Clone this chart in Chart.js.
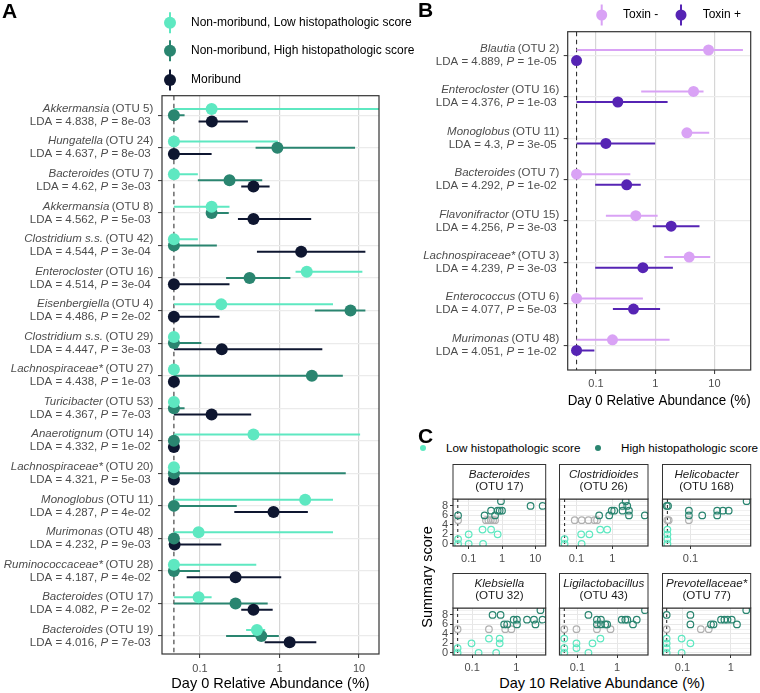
<!DOCTYPE html>
<html>
<head>
<meta charset="utf-8">
<title>Relative abundance figure</title>
<script src="https://cdn.jsdelivr.net/npm/chart.js@4.4.1/dist/chart.umd.min.js"></script>
<style>
  html, body { margin: 0; padding: 0; background: #fff; }
  body { position: relative; width: 760px; height: 693px; overflow: hidden; font-family: "Liberation Sans", Arial, sans-serif; }
  canvas { position: absolute; }
  .txt { position: absolute; white-space: nowrap; color: #000; line-height: 1; }
  .letter { font-weight: bold; font-size: 21px; }
  .dot { position: absolute; width: 6px; height: 6px; border-radius: 50%; }
  .ctr { transform: translate(-50%, -50%); }
  .rot { transform: translate(-50%, -50%) rotate(-90deg); }
</style>
</head>
<body>
<canvas id="chartA" width="420" height="693" style="left:0;top:0;width:420px;height:693px"></canvas>
<canvas id="chartB" width="380" height="410" style="left:380px;top:0;width:380px;height:410px"></canvas>

<div class="txt letter" style="left:2px;top:0px">A</div>
<div class="txt letter" style="left:418px;top:-1px">B</div>
<div class="txt letter" style="left:418px;top:425px">C</div>

<span class="dot" style="left:420px;top:445px;background:#5ee8c1"></span>
<div class="txt" style="left:446px;top:442px;font-size:11.7px">Low histopathologic score</div>
<span class="dot" style="left:595px;top:445px;background:#2a8570"></span>
<div class="txt" style="left:621px;top:442px;font-size:11.7px">High histopathologic score</div>
<div class="txt rot" style="left:427px;top:577px;font-size:14.5px">Summary score</div>
<div class="txt ctr" style="left:602px;top:683px;font-size:14.5px">Day 10 Relative Abundance (%)</div>

<script>
// ---------- data ----------
const LOD = 0.047; // abundance where "not detected" samples sit (dashed line)

// Panel A: day 0 abundance by outcome group (median point, range bar)
const seriesA = ['Non-moribund, Low histopathologic score', 'Non-moribund, High histopathologic score', 'Moribund'];
const genusA = ['Akkermansia', 'Hungatella', 'Bacteroides', 'Akkermansia', 'Clostridium s.s.', 'Enterocloster', 'Eisenbergiella',
  'Clostridium s.s.', 'Lachnospiraceae*', 'Turicibacter', 'Anaerotignum', 'Lachnospiraceae*', 'Monoglobus', 'Murimonas',
  'Ruminococcaceae*', 'Bacteroides', 'Bacteroides'];
const otuA = [5, 24, 7, 8, 42, 16, 4, 29, 27, 53, 14, 20, 11, 48, 28, 17, 19];
const ldaA = ['4.838', '4.637', '4.62', '4.562', '4.544', '4.514', '4.486', '4.447', '4.438', '4.367', '4.332', '4.321', '4.287', '4.232', '4.187', '4.082', '4.016'];
const pA = ['8e-03', '8e-03', '3e-03', '5e-03', '3e-04', '3e-04', '2e-02', '3e-03', '1e-03', '7e-03', '1e-02', '5e-03', '4e-02', '9e-03', '4e-02', '2e-02', '7e-03'];

const lowMid = [0.14, 0.047, 0.047, 0.14, 0.047, 2.2, 0.185, 0.047, 0.047, 0.047, 0.47, 0.047, 2.1, 0.096, 0.047, 0.096, 0.52];
const lowLo  = [0.047, 0.047, 0.047, 0.047, 0.047, 1.59, 0.047, 0.047, 0.047, 0.047, 0.047, 0.047, 0.047, 0.047, 0.047, 0.047, 0.38];
const lowHi  = [25, 0.95, 0.094, 0.235, 0.094, 11, 4.7, 0.047, 0.047, 0.047, 10.3, 0.047, 4.7, 4.7, 0.51, 0.14, 0.66];

const highMid = [0.047, 0.94, 0.235, 0.14, 0.047, 0.42, 7.8, 0.047, 2.55, 0.047, 0.047, 0.047, 0.047, 0.047, 0.047, 0.28, 0.59];
const highLo  = [0.047, 0.50, 0.094, 0.122, 0.047, 0.213, 2.78, 0.047, 0.047, 0.047, 0.047, 0.047, 0.047, 0.047, 0.047, 0.047, 0.213];
const highHi  = [0.064, 8.9, 0.606, 0.23, 0.163, 1.37, 12, 0.104, 6.25, 0.064, 0.047, 6.8, 0.29, 0.047, 0.1, 0.71, 0.98];

const morMid = [0.141, 0.047, 0.47, 0.47, 1.87, 0.047, 0.047, 0.188, 0.047, 0.14, 0.047, 0.047, 0.84, 0.048, 0.28, 0.47, 1.34];
const morLo  = [0.096, 0.047, 0.33, 0.30, 0.52, 0.047, 0.047, 0.047, 0.047, 0.047, 0.047, 0.047, 0.27, 0.047, 0.068, 0.33, 0.65];
const morHi  = [0.40, 0.14, 0.75, 2.5, 12, 0.235, 0.176, 3.45, 0.047, 0.44, 0.047, 0.047, 2.27, 0.185, 1.05, 0.82, 2.9];

// Panel B: day 0 abundance by toxin status
const seriesB = ['Toxin -', 'Toxin +'];
const genusB = ['Blautia', 'Enterocloster', 'Monoglobus', 'Bacteroides', 'Flavonifractor', 'Lachnospiraceae*', 'Enterococcus', 'Murimonas'];
const otuB = [2, 16, 11, 7, 15, 3, 6, 48];
const ldaB = ['4.889', '4.376', '4.3', '4.292', '4.256', '4.239', '4.077', '4.051'];
const pB = ['1e-05', '1e-03', '3e-05', '1e-02', '3e-03', '3e-03', '5e-03', '1e-02'];

const negMid = [7.96, 4.44, 3.43, 0.047, 0.47, 3.75, 0.047, 0.19];
const negLo  = [0.047, 0.58, 2.82, 0.047, 0.147, 1.42, 0.047, 0.047];
const negHi  = [30.3, 6.55, 8.17, 0.38, 1.1, 8.5, 0.62, 1.75];
const posMid = [0.047, 0.234, 0.147, 0.33, 1.86, 0.62, 0.43, 0.047];
const posLo  = [0.047, 0.047, 0.047, 0.097, 0.91, 0.097, 0.193, 0.047];
const posHi  = [0.047, 1.62, 1.0, 0.57, 5.6, 1.99, 1.21, 0.094];

const ticksDay0 = [0.1, 1, 10];

// Panel C: day 10 abundance vs summary score, one facet per OTU
const facetGenus = ['Bacteroides', 'Clostridioides', 'Helicobacter', 'Klebsiella', 'Ligilactobacillus', 'Prevotellaceae*'];
const facetOtu = [17, 26, 168, 32, 43, 77];
const facetXMin = [0.0338, 0.034, 0.040, 0.037, 0.0356, 0.0385];
const facetXMax = [20.5, 9.8, 0.72, 4.6, 5.95, 2.6];
const facetTicks = [[0.1, 1, 10], [0.1, 1], [0.1], [0.1, 1], [0.1, 1], [0.1, 1]];
const scoreTicks = [0, 1, 2, 3, 4, 5, 6, 7, 8, 9];

const highPts = [
  [[0.048, 6], [0.30, 6], [0.62, 6], [0.47, 7], [0.74, 7], [0.85, 7], [1.0, 7], [0.93, 9], [7.2, 8], [16.6, 8]],
  [[0.43, 6], [0.82, 6], [0.96, 7], [1.13, 7], [1.92, 8], [2.6, 8], [2.35, 9], [1.92, 7], [2.9, 7], [2.9, 6], [8.0, 6]],
  [[0.046, 8], [0.048, 8], [0.095, 7], [0.095, 6], [0.147, 6], [0.24, 7], [0.24, 6], [0.29, 7], [0.35, 7], [0.63, 9]],
  [[0.29, 8], [0.44, 8], [0.53, 6], [0.62, 6], [0.87, 7], [1.03, 7], [1.03, 6], [1.74, 7], [2.5, 7], [2.7, 6], [3.9, 7], [3.5, 9]],
  [[0.19, 8], [0.31, 7], [0.39, 7], [0.31, 6], [0.39, 6], [0.5, 6], [0.56, 6], [1.3, 7], [1.6, 7], [1.8, 7], [3.1, 7], [2.5, 6], [5.0, 9]],
  [[0.047, 8], [0.146, 8], [0.146, 6], [0.39, 6], [0.44, 6], [0.63, 7], [0.74, 7], [0.86, 7], [1.05, 7], [1.35, 6], [2.1, 9]]
];
const lowPts = [
  [[0.048, 1], [0.048, 0], [0.1, 2], [0.1, 0], [0.26, 3], [0.27, 0], [0.47, 3], [0.74, 2]],
  [[0.047, 1], [0.047, 0], [0.136, 2], [0.14, 0], [0.23, 2], [0.46, 3], [0.72, 3]],
  [[0.047, 3], [0.047, 2], [0.047, 1], [0.047, 0]],
  [[0.047, 1], [0.047, 0], [0.097, 2], [0.14, 0], [0.24, 3], [0.42, 3], [0.42, 2], [0.35, 0]],
  [[0.047, 3], [0.047, 1], [0.047, 0], [0.095, 2], [0.095, 1], [0.19, 0], [0.24, 2], [0.38, 3]],
  [[0.047, 3], [0.047, 2], [0.047, 1], [0.047, 0], [0.096, 3], [0.096, 0], [0.146, 2]]
];
const grayPts = [
  [[0.048, 5], [0.33, 5], [0.39, 5], [0.46, 5], [0.54, 5], [0.62, 5]],
  [[0.09, 5], [0.141, 5], [0.217, 5], [0.32, 5], [0.376, 5]],
  [[0.047, 5], [0.049, 5], [0.095, 5]],
  [[0.047, 5], [0.24, 5], [0.56, 5], [0.77, 5]],
  [[0.047, 5], [0.095, 5], [0.31, 5], [0.68, 5]],
  [[0.047, 5], [0.24, 5], [0.35, 5]]
];

// ---------- styles ----------
const FONT = '"Liberation Sans", Arial, sans-serif';
const COL_A = ['#5ee8c1', '#2a8570', '#0e1630'];
const COL_B = ['#d9a2f5', '#5624b4'];
const COL_C = { low: '#5ee8c1', high: '#2a8570', gray: '#b0b0b0' };

Chart.defaults.font.family = FONT;
Chart.defaults.color = '#4d4d4d';
Chart.defaults.animation = false;

function rowSeries(mid, lo, hi, offset, color, radius) {
  return {
    data: mid.map((v, i) => ({ x: v, y: i + offset })),
    lo: lo, hi: hi,
    backgroundColor: color, borderWidth: 0,
    pointRadius: radius, pointHoverRadius: radius
  };
}

function logAxis(min, max, ticks, o) {
  return {
    type: 'logarithmic', min: min, max: max,
    afterBuildTicks: s => { s.ticks = ticks.map(v => ({ value: v })); },
    afterFit: s => { s.height = o.height; },
    ticks: { autoSkip: false, maxRotation: 0, padding: o.pad, font: { size: 11 }, color: '#4d4d4d', callback: v => String(v) },
    grid: { color: o.grid, lineWidth: o.gridWidth, drawTicks: true, tickLength: o.tickLen, tickColor: '#333', tickWidth: 1 },
    border: { display: false },
    title: { display: !!o.title, text: o.title || '', color: '#000', font: { size: 14.5 }, padding: 0 }
  };
}

function rowAxis(min, max, n, w) {
  return {
    type: 'linear', reverse: true, min: min, max: max,
    afterBuildTicks: s => { s.ticks = Array.from({ length: n }, (_, i) => ({ value: i })); },
    afterFit: s => { s.width = w; },
    ticks: { display: false },
    grid: { color: '#ebebeb', lineWidth: 1.2, drawTicks: true, tickLength: 4, tickColor: '#333', tickWidth: 1 },
    border: { display: false }
  };
}

// dashed detection line, range bars, panel box and any extra drawing
function panelPlugin(extras, dash, barWidth) {
  return {
    id: 'panel',
    beforeDatasetsDraw(chart) {
      const { ctx, chartArea: a, scales: { x, y } } = chart;
      ctx.save();
      ctx.beginPath(); ctx.rect(a.left, a.top, a.width, a.height); ctx.clip();
      const lx = x.getPixelForValue(LOD);
      ctx.setLineDash(dash); ctx.strokeStyle = '#333'; ctx.lineWidth = 1.1;
      ctx.beginPath(); ctx.moveTo(lx, a.top); ctx.lineTo(lx, a.bottom); ctx.stroke();
      ctx.setLineDash([]);
      chart.data.datasets.forEach(ds => {
        if (!ds.lo) return;
        ctx.strokeStyle = ds.backgroundColor; ctx.lineWidth = barWidth;
        ds.data.forEach((p, i) => {
          if (ds.hi[i] <= ds.lo[i]) return;
          const py = y.getPixelForValue(p.y);
          ctx.beginPath();
          ctx.moveTo(x.getPixelForValue(ds.lo[i]), py);
          ctx.lineTo(x.getPixelForValue(ds.hi[i]), py);
          ctx.stroke();
        });
      });
      ctx.restore();
    },
    afterDraw(chart) {
      const { ctx, chartArea: a } = chart;
      ctx.save();
      ctx.strokeStyle = '#333'; ctx.lineWidth = 1.2;
      ctx.strokeRect(a.left, a.top, a.width, a.height);
      ctx.restore();
      extras.forEach(f => f(chart));
    }
  };
}

// two-line row labels: italic genus + (OTU n) / LDA = .., P = ..
function rowLabels(genus, otu, lda, p, x1, x2) {
  return chart => {
    const ctx = chart.ctx, y = chart.scales.y;
    const reg = '11.5px ' + FONT, ita = 'italic 11.5px ' + FONT;
    ctx.save();
    ctx.fillStyle = '#4d4d4d'; ctx.textBaseline = 'middle'; ctx.textAlign = 'left';
    genus.forEach((g, i) => {
      const py = y.getPixelForValue(i);
      const tail = '(OTU ' + otu[i] + ')';
      ctx.font = reg; const wt = ctx.measureText(tail).width;
      ctx.font = ita; const wg = ctx.measureText(g).width;
      ctx.fillText(g, x1 - wt - 2.5 - wg, py - 6.5);
      ctx.font = reg; ctx.fillText(tail, x1 - wt, py - 6.5);
      const s1 = 'LDA = ' + lda[i] + ', ', s3 = ' = ' + p[i];
      const w1 = ctx.measureText(s1).width, w3 = ctx.measureText(s3).width;
      ctx.font = ita; const w2 = ctx.measureText('P').width;
      ctx.fillText('P', x2 - w3 - w2, py + 6.5);
      ctx.font = reg;
      ctx.fillText(s1, x2 - w3 - w2 - w1, py + 6.5);
      ctx.fillText(s3, x2 - w3, py + 6.5);
    });
    ctx.restore();
  };
}

// ggplot-like pointrange legend keys
function pointLegend(items, radius) {
  return chart => {
    const ctx = chart.ctx;
    ctx.save();
    items.forEach(it => {
      ctx.strokeStyle = it.color; ctx.fillStyle = it.color; ctx.lineWidth = 2;
      ctx.beginPath(); ctx.moveTo(it.x, it.y - 10.5); ctx.lineTo(it.x, it.y + 10.5); ctx.stroke();
      ctx.beginPath(); ctx.arc(it.x, it.y, radius, 0, Math.PI * 2); ctx.fill();
      ctx.fillStyle = '#000'; ctx.font = '12px ' + FONT; ctx.textBaseline = 'middle'; ctx.textAlign = 'left';
      ctx.fillText(it.text, it.tx, it.y);
    });
    ctx.restore();
  };
}

function stripLabel(genus, otu) {
  return chart => {
    const { ctx, chartArea: a } = chart;
    ctx.save();
    ctx.fillStyle = '#fff'; ctx.strokeStyle = '#333'; ctx.lineWidth = 1;
    ctx.fillRect(a.left, 0.5, a.width, a.top - 0.5);
    ctx.strokeRect(a.left, 0.5, a.width, a.top - 0.5);
    ctx.fillStyle = '#1a1a1a'; ctx.textAlign = 'center'; ctx.textBaseline = 'middle';
    const cx = (a.left + a.right) / 2;
    ctx.font = 'italic 11.6px ' + FONT; ctx.fillText(genus, cx, 11);
    ctx.font = '11.6px ' + FONT; ctx.fillText('(OTU ' + otu + ')', cx, 22.7);
    ctx.restore();
  };
}

const quiet = { legend: { display: false }, tooltip: { enabled: false } };

// ---------- panel A ----------
const DODGE_A = 0.19;
new Chart(document.getElementById('chartA'), {
  type: 'scatter',
  data: { datasets: [
    rowSeries(lowMid, lowLo, lowHi, -DODGE_A, COL_A[0], 6),
    rowSeries(highMid, highLo, highHi, 0, COL_A[1], 6),
    rowSeries(morMid, morLo, morHi, DODGE_A, COL_A[2], 6)
  ] },
  options: {
    responsive: false, animation: false,
    layout: { padding: { top: 95.7, right: 41, bottom: 0, left: 0 } },
    plugins: quiet,
    scales: {
      x: logAxis(0.0333, 17.8, ticksDay0, { title: 'Day 0 Relative Abundance (%)', height: 39, pad: 4, tickLen: 4, grid: '#d6d6d6', gridWidth: 1.2 }),
      y: rowAxis(-0.6, 16.55, genusA.length, 162)
    }
  },
  plugins: [panelPlugin([
    rowLabels(genusA, otuA, ldaA, pA, 153.3, 150.7),
    pointLegend([
      { color: COL_A[0], x: 170, y: 22.7, tx: 191, text: seriesA[0] },
      { color: COL_A[1], x: 170, y: 50.7, tx: 191, text: seriesA[1] },
      { color: COL_A[2], x: 170, y: 80, tx: 191, text: seriesA[2] }
    ], 6)
  ], [4.5, 3.5], 2)]
});

// ---------- panel B ----------
const DODGE_B = 0.128;
new Chart(document.getElementById('chartB'), {
  type: 'scatter',
  data: { datasets: [
    rowSeries(negMid, negLo, negHi, -DODGE_B, COL_B[0], 5.5),
    rowSeries(posMid, posLo, posHi, DODGE_B, COL_B[1], 5.5)
  ] },
  options: {
    responsive: false, animation: false,
    layout: { padding: { top: 31.7, right: 9.3, bottom: 0, left: 0 } },
    plugins: quiet,
    scales: {
      x: logAxis(0.0333, 41, ticksDay0, { title: 'Day 0 Relative Abundance (%)', height: 40, pad: 3, tickLen: 4, grid: '#d6d6d6', gridWidth: 1.2 }),
      y: rowAxis(-0.57, 7.6, genusB.length, 187.7)
    }
  },
  plugins: [panelPlugin([
    rowLabels(genusB, otuB, ldaB, pB, 179.3, 176.7),
    pointLegend([
      { color: COL_B[0], x: 221.7, y: 15, tx: 243, text: seriesB[0] },
      { color: COL_B[1], x: 301, y: 15, tx: 322.7, text: seriesB[1] }
    ], 5.5)
  ], [4.5, 3.5], 2)]
});

// ---------- panel C ----------
const COL_L = [453, 555.5, 658], COL_R = [545.7, 648, 750.7], ROW_T = [464, 573];
const STRIP_H = 35, PLOT_H = 47, XAX_H = 20;

function ringSet(pts, color) {
  return {
    data: pts.map(p => ({ x: p[0], y: p[1] })),
    borderColor: color, backgroundColor: 'rgba(0,0,0,0)', borderWidth: 1.2,
    pointRadius: 3.3, pointHoverRadius: 3.3
  };
}

facetGenus.forEach((g, i) => {
  const col = i % 3, row = Math.floor(i / 3);
  const left = Math.floor(COL_L[col] - (col === 0 ? 18 : 0));
  const yw = COL_L[col] - left;
  const width = Math.ceil(COL_R[col] - left) + 6;
  const height = STRIP_H + PLOT_H + XAX_H;
  const cv = document.createElement('canvas');
  cv.width = width; cv.height = height;
  cv.style.cssText = 'left:' + left + 'px;top:' + ROW_T[row] + 'px;width:' + width + 'px;height:' + height + 'px';
  document.body.appendChild(cv);
  const first = col === 0;
  new Chart(cv, {
    type: 'scatter',
    data: { datasets: [
      ringSet(highPts[i], COL_C.high),
      ringSet(lowPts[i], COL_C.low),
      ringSet(grayPts[i], COL_C.gray)
    ] },
    options: {
      responsive: false, animation: false,
      layout: { padding: { top: STRIP_H, right: width - (COL_R[col] - left), bottom: 0, left: 0 } },
      plugins: quiet,
      scales: {
        x: logAxis(facetXMin[i], facetXMax[i], facetTicks[i], { height: XAX_H, pad: 3, tickLen: 3, grid: '#e6e6e6', gridWidth: 1 }),
        y: {
          type: 'linear', min: -0.45, max: 9.45,
          afterBuildTicks: s => { s.ticks = scoreTicks.map(v => ({ value: v })); },
          afterFit: s => { s.width = yw; },
          ticks: { display: first, autoSkip: false, padding: 2, font: { size: 11 }, color: '#4d4d4d',
            callback: v => (v % 2 === 0 ? String(v) : '') },
          grid: {
            color: '#e8e8e8',
            lineWidth: c => (c.tick && c.tick.value % 2 ? 0.6 : 1),
            drawTicks: first, tickLength: 3, tickWidth: 1,
            tickColor: c => (c.tick && c.tick.value % 2 ? 'rgba(0,0,0,0)' : '#333')
          },
          border: { display: false }
        }
      }
    },
    plugins: [panelPlugin([stripLabel(g, facetOtu[i])], [3, 3], 1)]
  });
});
</script>
</body>
</html>
